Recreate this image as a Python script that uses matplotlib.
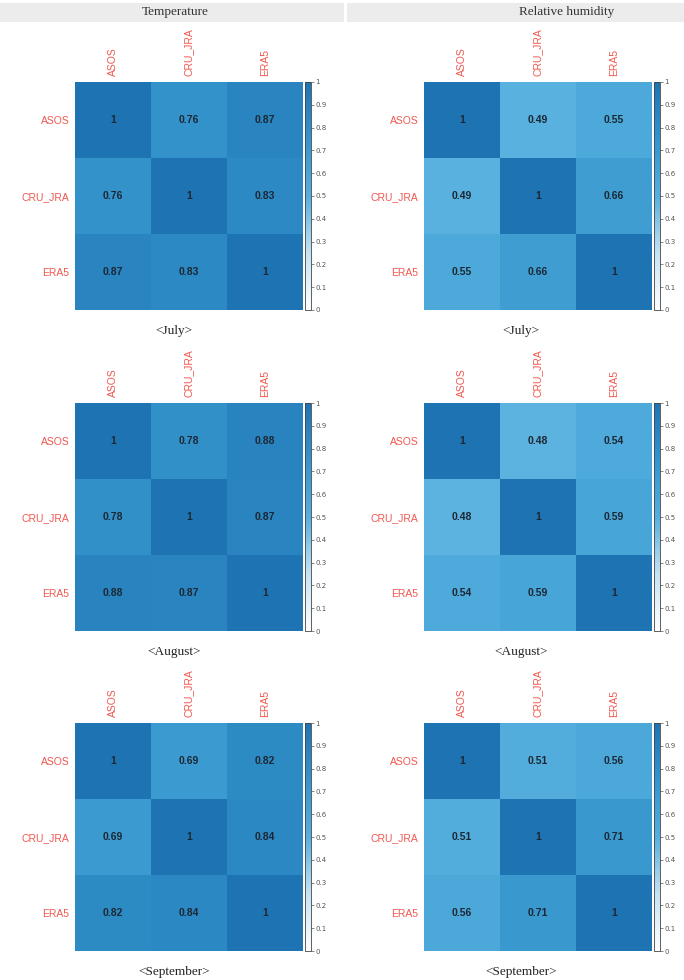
import matplotlib
matplotlib.use("Agg")
import matplotlib.pyplot as plt
import numpy as np
from matplotlib.colors import LinearSegmentedColormap
from matplotlib.patches import Rectangle

names = ["ASOS", "CRU_JRA", "ERA5"]
columns = ["Temperature", "Relative humidity"]
months = ["<July>", "<August>", "<September>"]

# off-diagonal pairs: ASOS-CRU_JRA, ASOS-ERA5, CRU_JRA-ERA5
temp_jul = [0.76, 0.87, 0.83]
temp_aug = [0.78, 0.88, 0.87]
temp_sep = [0.69, 0.82, 0.84]
rh_jul = [0.49, 0.55, 0.66]
rh_aug = [0.48, 0.54, 0.59]
rh_sep = [0.51, 0.56, 0.71]

cbar_ticks = [0, 0.1, 0.2, 0.3, 0.4, 0.5, 0.6, 0.7, 0.8, 0.9, 1]
cbar_labels = ["0", "0.1", "0.2", "0.3", "0.4", "0.5", "0.6", "0.7", "0.8", "0.9", "1"]


def corr_matrix(p):
    return np.array([[1, p[0], p[1]],
                     [p[0], 1, p[2]],
                     [p[1], p[2], 1]])


cmap = LinearSegmentedColormap.from_list("blues", [
    (0.0, "#ffffff"),
    (0.25, "#c4e3f4"),
    (0.5, "#54afde"),
    (0.75, "#3494cc"),
    (1.0, "#1e74b2"),
])

W, H = 684, 980
fig = plt.figure(figsize=(W / 100, H / 100), dpi=100)

# header band
fig.patches.append(Rectangle((0, 1 - 22 / H), 344 / W, 19 / H, transform=fig.transFigure,
                             facecolor="#ececec", edgecolor="none"))
fig.patches.append(Rectangle((347 / W, 1 - 22 / H), 337 / W, 19 / H, transform=fig.transFigure,
                             facecolor="#ececec", edgecolor="none"))
fig.text(175 / W, 1 - 12.5 / H, columns[0], ha="center", va="center",
         fontsize=9.5, family="Liberation Serif", color="#333333")
fig.text(567 / W, 1 - 12.5 / H, columns[1], ha="center", va="center",
         fontsize=9.5, family="Liberation Serif", color="#333333")

data = [[temp_jul, rh_jul], [temp_aug, rh_aug], [temp_sep, rh_sep]]
tops = [82, 403, 723]
lefts = [75, 424]
caption_x = [174, 521]
size = 228

for r in range(3):
    for c in range(2):
        m = corr_matrix(data[r][c])
        x0, y0 = lefts[c], tops[r]
        ax = fig.add_axes([x0 / W, 1 - (y0 + size) / H, size / W, size / H])
        im = ax.imshow(m, cmap=cmap, vmin=0, vmax=1, aspect="auto")
        for i in range(3):
            for j in range(3):
                v = m[i, j]
                txt = "1" if v == 1 else f"{v:.2f}"
                ax.text(j, i, txt, ha="center", va="center", fontsize=7.5,
                        fontweight="bold", family="Liberation Sans", color="#1c2733")
        ax.set_xticks(range(3))
        ax.set_yticks(range(3))
        ax.set_xticklabels(names, rotation=90, fontsize=7.5, color="#f0584f",
                           family="Liberation Sans")
        ax.set_yticklabels(names, fontsize=7.5, color="#f0584f", family="Liberation Sans")
        ax.xaxis.tick_top()
        ax.tick_params(length=0, pad=4)
        for s in ax.spines.values():
            s.set_visible(False)

        cax = fig.add_axes([(x0 + size + 2) / W, 1 - (y0 + size) / H, 6 / W, size / H])
        cb = fig.colorbar(im, cax=cax)
        cb.set_ticks(cbar_ticks)
        cb.set_ticklabels(cbar_labels)
        cb.ax.tick_params(labelsize=5, length=2, width=0.5, pad=1, colors="#555555")
        cb.outline.set_edgecolor("#444444")
        cb.outline.set_linewidth(0.6)

        fig.text(caption_x[c] / W, 1 - (y0 + size + 21) / H, months[r], ha="center",
                 va="center", fontsize=9.5, family="Liberation Serif", color="#222222")

fig.savefig("out.png", dpi=100)
